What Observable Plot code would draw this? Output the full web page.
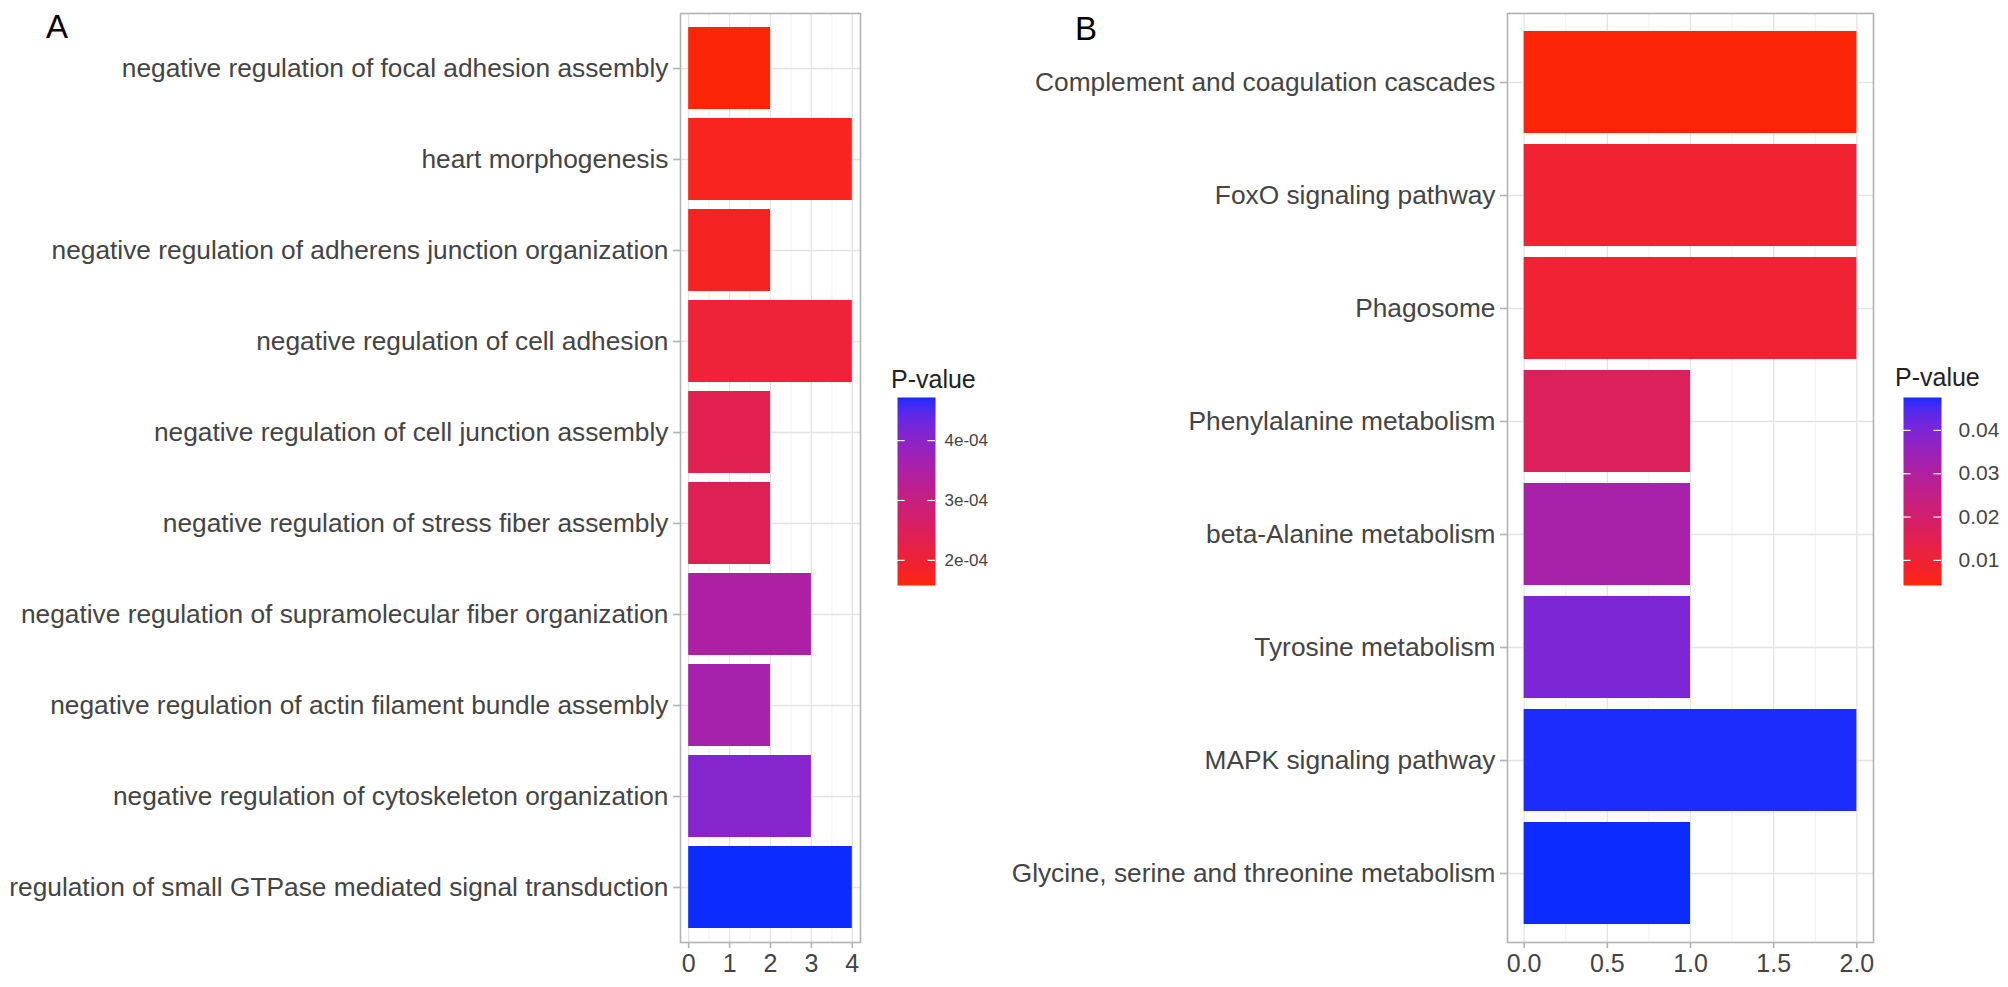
<!DOCTYPE html>
<html>
<head>
<meta charset="utf-8">
<script src="https://cdn.jsdelivr.net/npm/d3@7"></script>
<script src="https://cdn.jsdelivr.net/npm/@observablehq/plot@0.6"></script>
<style>
  html, body { margin: 0; padding: 0; background: #fff; }
  #root { position: relative; width: 2008px; height: 987px; overflow: hidden; font-family: "Liberation Sans", Arial, sans-serif; }
  .abs { position: absolute; }
  .letter { font-size: 33px; color: #000; line-height: 1; }
  .ltitle { font-size: 25px; color: #222; line-height: 1; }
</style>
</head>
<body>
<div id="root">
  <div class="abs letter" style="left:46px; top:10px;">A</div>
  <div class="abs letter" style="left:1075px; top:12px;">B</div>
  <div class="abs ltitle" style="left:891px; top:367px;">P-value</div>
  <div class="abs ltitle" style="left:1895px; top:365px;">P-value</div>
  <div id="pA" class="abs" style="left:0px; top:0px;"></div>
  <div id="pB" class="abs" style="left:900px; top:0px;"></div>
  <div id="lA" class="abs" style="left:897px; top:397px;"></div>
  <div id="lB" class="abs" style="left:1903px; top:397px;"></div>
</div>
<script>
// ---- Panel A data (GO terms) ----
const termsA = [
  "negative regulation of focal adhesion assembly",
  "heart morphogenesis",
  "negative regulation of adherens junction organization",
  "negative regulation of cell adhesion",
  "negative regulation of cell junction assembly",
  "negative regulation of stress fiber assembly",
  "negative regulation of supramolecular fiber organization",
  "negative regulation of actin filament bundle assembly",
  "negative regulation of cytoskeleton organization",
  "regulation of small GTPase mediated signal transduction"
];
const countsA = [2, 4, 2, 4, 2, 2, 3, 2, 3, 4];
const pA = [1.58e-4, 1.72e-4, 1.78e-4, 2.02e-4, 2.34e-4, 2.42e-4, 3.50e-4, 3.62e-4, 4.06e-4, 4.72e-4];
const ticksA = [0, 1, 2, 3, 4];
const minorA = [0.5, 1.5, 2.5, 3.5];
const legendTicksA = [2e-4, 3e-4, 4e-4];

// ---- Panel B data (KEGG pathways) ----
const termsB = [
  "Complement and coagulation cascades",
  "FoxO signaling pathway",
  "Phagosome",
  "Phenylalanine metabolism",
  "beta-Alanine metabolism",
  "Tyrosine metabolism",
  "MAPK signaling pathway",
  "Glycine, serine and threonine metabolism"
];
const countsB = [2, 2, 2, 1, 1, 1, 2, 1];
const pB = [0.0042, 0.0092, 0.0096, 0.0168, 0.0320, 0.0400, 0.0473, 0.0476];
const ticksB = [0, 0.5, 1, 1.5, 2];
const minorB = [0.25, 0.75, 1.25, 1.75];
const legendTicksB = [0.01, 0.02, 0.03, 0.04];

const FONT = "Liberation Sans, Arial, sans-serif";
const lowColor = "#fd2508";
const highColor = "#0c2cff";

function colorScale(pvals) {
  return {type: "linear", domain: d3.extent(pvals), range: [lowColor, highColor], interpolate: d3.interpolateLab};
}

function panel({terms, counts, pvals, xDomain, ticks, minor, fmt, width, marginLeft, marginRight}) {
  const data = terms.map((t, i) => ({term: t, count: counts[i], p: pvals[i]}));
  return Plot.plot({
    width, height: 987,
    marginLeft, marginRight, marginTop: 13, marginBottom: 45,
    style: {fontFamily: FONT, background: "transparent", overflow: "visible"},
    x: {domain: xDomain, label: null},
    y: {domain: terms, paddingInner: 0.1, paddingOuter: 0.15, label: null},
    color: colorScale(pvals),
    marks: [
      Plot.ruleX(minor, {stroke: "#f1f1f1", strokeWidth: 1}),
      Plot.ruleX(ticks, {stroke: "#e4e4e4", strokeWidth: 1.3}),
      Plot.gridY({stroke: "#e4e4e4", strokeOpacity: 1, strokeWidth: 1.3}),
      Plot.barX(data, {x: "count", y: "term", fill: "p"}),
      Plot.frame({stroke: "#b3b3b3", strokeWidth: 1.6}),
      Plot.axisY({tickSize: 7, tickPadding: 5, fontSize: 26.3, stroke: "#b3b3b3", fill: "#444", strokeWidth: 1.6, label: null}),
      Plot.axisX(ticks, {tickSize: 6, tickPadding: 6, fontSize: 25, tickFormat: fmt, stroke: "#b3b3b3", fill: "#444", strokeWidth: 1.6, label: null})
    ]
  });
}

function legend({pvals, ticks, fmt, marginRight, fontSize, tickPadding}) {
  const ext = d3.extent(pvals);
  return Plot.plot({
    width: 38 + marginRight, height: 188,
    marginLeft: 0, marginRight, marginTop: 0, marginBottom: 0,
    style: {fontFamily: FONT, background: "transparent", overflow: "visible"},
    x: {domain: [0, 1], axis: null},
    y: {domain: ext, axis: null},
    color: colorScale(pvals),
    marks: [
      Plot.raster({x1: 0, x2: 1, y1: ext[0], y2: ext[1], width: 2, height: 188, fill: (x, y) => y}),
      Plot.ruleY(ticks, {x1: 0, x2: 0.2, stroke: "white", strokeWidth: 1.2}),
      Plot.ruleY(ticks, {x1: 0.8, x2: 1, stroke: "white", strokeWidth: 1.2}),
      Plot.axisY(ticks, {anchor: "right", tickSize: 0, tickPadding, fontSize, tickFormat: fmt, fill: "#444", label: null})
    ]
  });
}

const expFmt = d => d.toExponential(0).replace(/e([+-])(\d)$/, "e$10$2");

document.getElementById("pA").append(panel({
  terms: termsA, counts: countsA, pvals: pA, xDomain: [-0.2, 4.2], ticks: ticksA, minor: minorA,
  fmt: d3.format("d"), width: 870, marginLeft: 680, marginRight: 10
}));
document.getElementById("pB").append(panel({
  terms: termsB, counts: countsB, pvals: pB, xDomain: [-0.1, 2.1], ticks: ticksB, minor: minorB,
  fmt: d3.format(".1f"), width: 980, marginLeft: 607, marginRight: 7
}));
document.getElementById("lA").append(legend({pvals: pA, ticks: legendTicksA, fmt: expFmt, marginRight: 70, fontSize: 17, tickPadding: 9}));
document.getElementById("lB").append(legend({pvals: pB, ticks: legendTicksB, fmt: d3.format(".2f"), marginRight: 67, fontSize: 21, tickPadding: 17}));
</script>
</body>
</html>
